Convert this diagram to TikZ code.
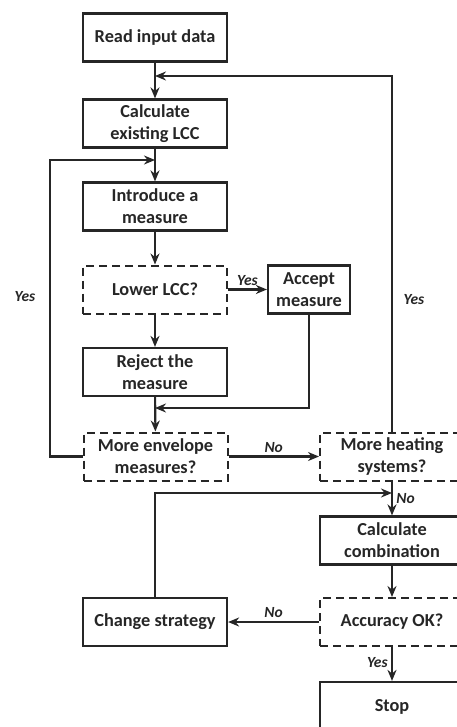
\documentclass[tikz,border=0pt]{standalone}
\usepackage{fontspec}
\setmainfont{Carlito}
\usetikzlibrary{arrows.meta}
\begin{document}
\begin{tikzpicture}[x=1pt,y=1pt,
  every node/.style={font=\fontsize{18.3}{22}\selectfont\bfseries, text=black!85},
  box/.style={draw=black!85, line width=2.2pt, minimum width=144pt, minimum height=48pt, align=center, inner sep=2pt},
  qbox/.style={box, dash pattern=on 8pt off 5pt, line width=2pt},
  conn/.style={draw=black!85, line width=2.1pt},
  arr/.style={conn, -{Stealth[length=11pt,width=9pt]}},
  lab/.style={font=\fontsize{15.5}{18}\selectfont\bfseries\itshape}]
\useasboundingbox (0,0) rectangle (457,-727);
\clip (0,0) rectangle (457,-727);
\node[box] (read) at (155,-37.5) {Read input data};
\node[box] (calc) at (155,-123.5) {Calculate\\existing LCC};
\node[box] (intro) at (155,-206.5) {Introduce a\\measure};
\node[qbox] (lower) at (155,-289.5) {Lower LCC?};
\node[box, minimum width=82pt] (accept) at (309,-289.5) {Accept\\measure};
\node[box] (reject) at (155,-372) {Reject the\\measure};
\node[qbox] (env) at (155.5,-456.5) {More envelope\\measures?};
\node[qbox] (heat) at (392,-456.5) {More heating\\systems?};
\node[box] (comb) at (392,-540.5) {Calculate\\combination};
\node[qbox] (acc) at (392,-622) {Accuracy OK?};
\node[box] (change) at (155,-622) {Change strategy};
\node[box, minimum height=50pt] (stop) at (392,-707) {Stop};
\coordinate (j1) at (155,-76);
\coordinate (j2) at (155,-160);
\coordinate (j3) at (155,-408);
\coordinate (j4) at (392,-493);
\coordinate (yl) at (50,-456.5);
\draw[arr] (read) -- (calc);
\draw[arr] (calc) -- (intro);
\draw[arr] (intro) -- (lower);
\draw[arr] (lower) -- node[lab, above] {Yes} (accept);
\draw[arr] (lower) -- (reject);
\draw[arr] (accept.south) |- (j3);
\draw[arr] (reject) -- (env);
\draw[arr] (env) -- node[lab, above] {No} (heat);
\draw[arr] (env.west) -- (yl) |- (j2);
\draw[arr] (heat.north) |- (j1);
\draw[arr] (heat) -- node[lab, right, pos=0.5] {No} (comb);
\draw[arr] (change.north) |- (j4);
\draw[arr] (comb) -- (acc);
\draw[arr] (acc) -- node[lab, above] {No} (change);
\draw[arr] (acc) -- node[lab, left, pos=0.45] {Yes} (stop);
\node[lab] (yesl) at (25,-297) {Yes};
\node[lab] (yesr) at (414,-300) {Yes};
\end{tikzpicture}
\end{document}
